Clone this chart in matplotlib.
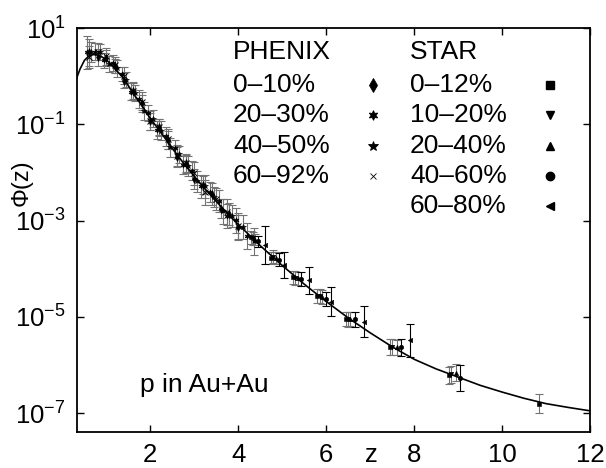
import numpy as np
import matplotlib
matplotlib.use("Agg")
import matplotlib.pyplot as plt

plt.rcParams['font.family'] = ['Liberation Sans', 'DejaVu Sans']
plt.rcParams['mathtext.default'] = 'regular'

# fit curve
curve_z = [0.33, 0.4, 0.5, 0.6, 0.7, 0.8, 0.9, 1.0, 1.1, 1.2, 1.3, 1.4, 1.5, 1.6, 1.7,
           1.8, 1.9, 2.0, 2.25, 2.5, 2.75, 3.0, 3.25, 3.5, 3.75, 4.0, 4.5, 5.0, 5.5,
           6.0, 6.5, 7.0, 7.5, 8.0, 8.5, 9.0, 9.5, 10.0, 10.5, 11.0, 11.5, 12.0]
curve_phi = [0.95, 1.41, 2.14, 2.63, 2.82, 2.75, 2.51, 2.19, 1.78, 1.41, 1.12, 0.891,
             0.631, 0.447, 0.339, 0.251, 0.182, 0.132, 0.0661, 0.0316, 0.0158,
             8.32e-3, 4.47e-3, 2.51e-3, 1.41e-3, 8.32e-4, 3.02e-4, 1.17e-4, 4.79e-5,
             2.09e-5, 9.55e-6, 4.68e-6, 2.40e-6, 1.32e-6, 8.32e-7, 5.62e-7, 3.80e-7,
             2.75e-7, 2.04e-7, 1.58e-7, 1.32e-7, 1.12e-7]

# PHENIX
phx_labels = ['0\u201310%', '20\u201330%', '40\u201350%', '60\u201392%']
phx_markers = ['d', (6, 1, 0), '*', 'x']
phx_z = [
    [0.6, 0.8, 1.0, 1.2, 1.4, 1.6, 1.8, 2.0, 2.2, 2.4, 2.6, 2.8, 3.0, 3.2, 3.4, 3.6, 3.8, 4.0],
    [0.55, 0.75, 0.95, 1.15, 1.35, 1.55, 1.75, 1.95, 2.15, 2.35, 2.55, 2.75, 2.95, 3.15, 3.35,
     3.55, 3.75, 3.95, 4.2],
    [0.65, 0.85, 1.05, 1.25, 1.45, 1.65, 1.85, 2.05, 2.25, 2.45, 2.65, 2.85, 3.05, 3.25, 3.45,
     3.65, 3.85, 4.1, 4.35],
    [0.6, 0.8, 1.0, 1.2, 1.4, 1.6, 1.8, 2.0, 2.2, 2.4, 2.6, 2.8, 3.0, 3.25, 3.5, 3.75, 4.0],
]
phx_phi = [
    [3.16, 2.45, 2.40, 1.62, 0.813, 0.501, 0.282, 0.115, 0.0871, 0.0468, 0.0214, 0.0155,
     7.24e-3, 5.50e-3, 3.63e-3, 1.78e-3, 1.38e-3, 7.41e-4],
    [3.16, 3.24, 2.14, 1.86, 1.12, 0.479, 0.339, 0.174, 0.0759, 0.0562, 0.0316, 0.0141,
     0.0110, 5.13e-3, 3.98e-3, 2.57e-3, 1.26e-3, 1.02e-3, 4.79e-4],
    [3.16, 3.16, 1.78, 1.45, 0.851, 0.447, 0.191, 0.132, 0.0741, 0.0331, 0.0240, 0.0138,
     6.61e-3, 5.13e-3, 3.09e-3, 1.55e-3, 1.26e-3, 7.41e-4, 3.72e-4],
    [2.51, 3.24, 2.57, 1.70, 1.02, 0.490, 0.288, 0.120, 0.0871, 0.0490, 0.0219, 0.0155,
     9.55e-3, 3.89e-3, 2.82e-3, 1.51e-3, 7.59e-4],
]
# relative errors
phx_err = [
    [0.9, 0.5, 0.45, 0.4, 0.45, 0.5, 0.45, 0.5, 0.45, 0.55, 0.6, 0.5, 0.6, 0.55, 0.7, 0.6, 0.7, 0.8],
    [1.2, 0.5, 0.45, 0.45, 0.4, 0.5, 0.55, 0.45, 0.55, 0.6, 0.5, 0.55, 0.6, 0.7, 0.6, 0.7, 0.75, 0.8, 0.9],
    [0.6, 0.45, 0.45, 0.5, 0.45, 0.45, 0.55, 0.5, 0.6, 0.55, 0.5, 0.6, 0.65, 0.7, 0.6, 0.8, 0.7, 0.8, 0.9],
    [0.7, 0.5, 0.5, 0.45, 0.5, 0.5, 0.6, 0.55, 0.5, 0.6, 0.7, 0.6, 0.7, 0.8, 0.7, 0.9, 0.9],
]

# STAR
star_labels = ['0\u201312%', '10\u201320%', '20\u201340%', '40\u201360%', '60\u201380%']
star_markers = ['s', 'v', '^', 'o', '<']
star_z = [
    [4.3, 4.75, 5.25, 5.8, 6.45, 7.45, 8.8, 10.85],
    [4.33, 4.8, 5.3, 5.85, 6.5, 7.5, 8.85],
    [4.38, 4.85, 5.35, 5.9, 6.55, 7.6, 8.95],
    [4.45, 4.92, 5.42, 6.0, 6.65, 7.7, 9.05],
    [4.6, 5.05, 5.6, 6.12, 6.85, 7.9],
]
star_phi = [
    [4.47e-4, 1.66e-4, 6.61e-5, 2.69e-5, 9.12e-6, 2.40e-6, 6.17e-7, 1.58e-7],
    [4.27e-4, 1.78e-4, 6.46e-5, 2.69e-5, 8.91e-6, 2.40e-6, 6.46e-7],
    [3.98e-4, 1.66e-4, 6.31e-5, 2.57e-5, 8.91e-6, 2.34e-6, 6.92e-7],
    [3.72e-4, 1.55e-4, 6.17e-5, 2.34e-5, 8.91e-6, 2.34e-6, 5.37e-7],
    [3.16e-4, 1.20e-4, 5.75e-5, 2.09e-5, 7.94e-6, 3.31e-6],
]
star_err = [
    [0.35, 0.35, 0.35, 0.4, 0.4, 0.45, 0.5, 0.6],
    [0.35, 0.35, 0.4, 0.4, 0.45, 0.45, 0.5],
    [0.3, 0.35, 0.35, 0.4, 0.4, 0.45, 0.5],
    [0.3, 0.35, 0.4, 0.4, 0.45, 0.5, 0.9],
    [1.5, 0.9, 0.9, 1.0, 1.1, 1.2],
]
star_errcolor = ['0.45', '0.45', '0.45', 'black', 'black']


def draw_points(ax, z, phi, rel, marker, ecolor, ms):
    z = np.array(z)
    phi = np.array(phi)
    rel = np.array(rel)
    lower = phi - phi / (1 + rel)
    upper = phi * rel
    ax.errorbar(z, phi, yerr=[lower, upper], fmt='none', ecolor=ecolor,
                elinewidth=0.8, capsize=2.8, capthick=0.8, zorder=2)
    mew = 0.7 if marker == 'x' else 0.4
    ax.plot(z, phi, linestyle='none', marker=marker, color='black', ms=ms,
            mew=mew, zorder=3)


fig = plt.figure(figsize=(6.06, 4.68), dpi=100)
ax = fig.add_axes([0.127, 0.077, 0.8465, 0.863])

for i in range(len(phx_z)):
    draw_points(ax, phx_z[i], phx_phi[i], phx_err[i], phx_markers[i], '0.45', 4.0)
for i in range(len(star_z)):
    draw_points(ax, star_z[i], star_phi[i], star_err[i], star_markers[i], star_errcolor[i], 3.2)

ax.plot(curve_z, curve_phi, color='black', lw=1.2, zorder=4)

ax.set_yscale('log')
ax.set_xlim(0.33, 12)
ax.set_ylim(10 ** -7.39, 10)
ax.set_xticks([2, 4, 6, 8, 10, 12])
ax.set_yticks([1e1, 1e-1, 1e-3, 1e-5, 1e-7])
ax.yaxis.set_minor_locator(matplotlib.ticker.NullLocator())
ax.tick_params(direction='in', length=5, width=1.0, top=True, right=True,
               labelsize=18.5, pad=8)
for sp in ax.spines.values():
    sp.set_linewidth(1.3)

ax.set_ylabel('\u03a6(z)', fontsize=17)
ax.yaxis.set_label_coords(-0.086, 0.616)
fig.text(371 / 606, 6 / 468, 'z', fontsize=18.5, ha='center', va='baseline')

# legend written by hand, as in the figure
fs = 19
ax.text(0.304, 0.941, 'PHENIX', transform=ax.transAxes, fontsize=fs, va='center')
ax.text(0.649, 0.941, 'STAR', transform=ax.transAxes, fontsize=fs, va='center')
phx_rows = [0.859, 0.785, 0.708, 0.634]
star_rows = [0.859, 0.785, 0.708, 0.634, 0.559]
for i in range(len(phx_labels)):
    ax.text(0.304, phx_rows[i], phx_labels[i], transform=ax.transAxes,
            fontsize=fs, va='center')
    ms = 5 if phx_markers[i] == 'x' else 7
    ax.plot([0.577], [phx_rows[i]], transform=ax.transAxes, marker=phx_markers[i],
            color='black', ms=ms, mew=0.6, linestyle='none', clip_on=False)
for i in range(len(star_labels)):
    ax.text(0.649, star_rows[i], star_labels[i], transform=ax.transAxes,
            fontsize=fs, va='center')
    ax.plot([0.922], [star_rows[i]], transform=ax.transAxes, marker=star_markers[i],
            color='black', ms=6, linestyle='none', clip_on=False)

ax.text(0.123, 0.116, 'p in Au+Au', transform=ax.transAxes, fontsize=fs, va='center')

fig.savefig('out.png', dpi=100)
